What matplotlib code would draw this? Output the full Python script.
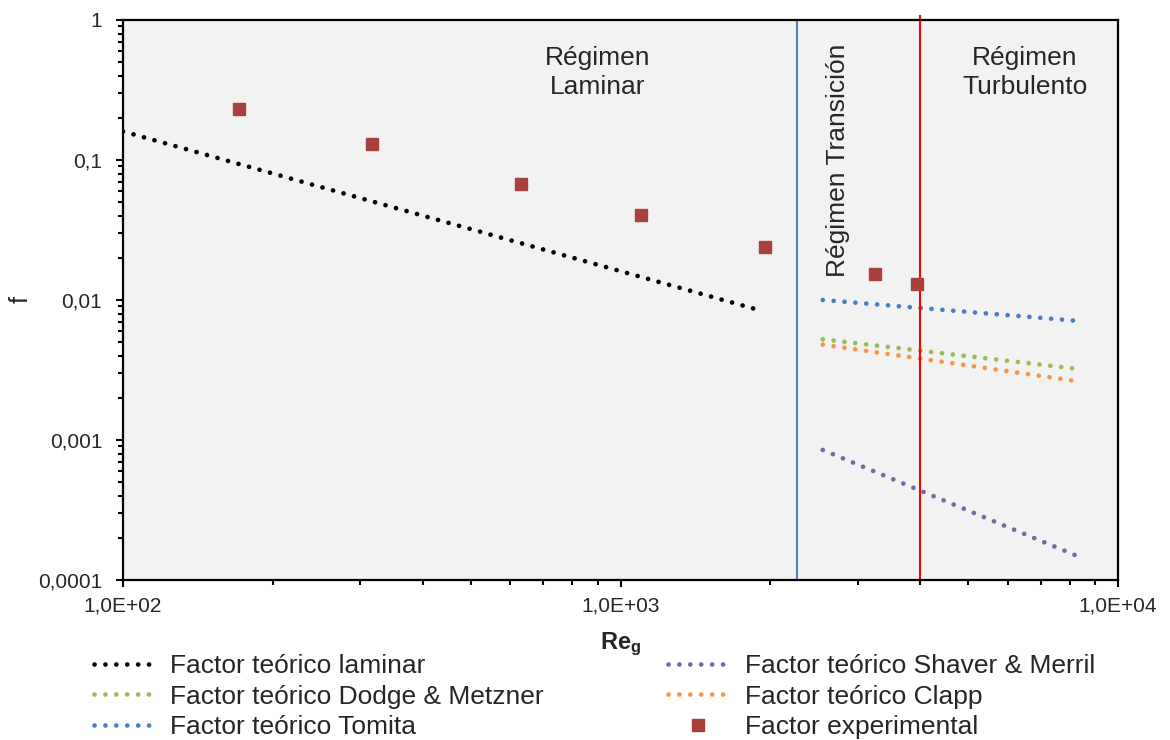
import matplotlib
matplotlib.use("Agg")
import matplotlib.pyplot as plt
from matplotlib.ticker import LogLocator, NullFormatter

plt.rcParams['font.family'] = ['Liberation Sans', 'DejaVu Sans']
plt.rcParams['mathtext.fontset'] = 'custom'
plt.rcParams['mathtext.rm'] = 'Liberation Sans'
plt.rcParams['mathtext.bf'] = 'Liberation Sans:bold'

# Experimental friction factor vs generalized Reynolds number
re_exp = [171, 317, 631, 1099, 1952, 3248, 3944]
f_exp = [0.231, 0.130, 0.0674, 0.0405, 0.0239, 0.0153, 0.0130]

# Theoretical curves (straight in log-log, endpoints)
re_lam = [100, 1915]
f_lam = [0.16, 0.0084]

re_turb = [2550, 8220]
f_dodge = [0.00524, 0.00323]
f_shaver = [0.000849, 0.000150]
f_clapp = [0.00480, 0.00264]
f_tomita = [0.0100, 0.00711]

re_trans_start = 2260
re_turb_start = 4000

y_ticks = [1e-4, 1e-3, 1e-2, 1e-1, 1]
y_labels = ['0,0001', '0,001', '0,01', '0,1', '1']
x_ticks = [1e2, 1e3, 1e4]
x_labels = ['1,0E+02', '1,0E+03', '1,0E+04']

fig = plt.figure(figsize=(11.7, 7.4), dpi=100)
ax = fig.add_axes([0.1051, 0.2162, 0.8505, 0.7568])
ax.set_facecolor('#F2F2F2')

dots = dict(linestyle=(0, (0.01, 2.3)), dash_capstyle='round', lw=3.4)

l_lam, = ax.plot(re_lam, f_lam, color='black', label='Factor teórico laminar', **dots)
l_dodge, = ax.plot(re_turb, f_dodge, color='#9BBB59', label='Factor teórico Dodge & Metzner', **dots)
l_tomita, = ax.plot(re_turb, f_tomita, color='#4A7EC4', label='Factor teórico Tomita', **dots)
l_shaver, = ax.plot(re_turb, f_shaver, color='#8064A2', label='Factor teórico Shaver & Merril', **dots)
l_clapp, = ax.plot(re_turb, f_clapp, color='#F79646', label='Factor teórico Clapp', **dots)

# regime boundaries
ax.plot([re_trans_start] * 2, [1e-4, 1], color='#4F81BD', lw=1.5)
ax.plot([re_turb_start] * 2, [1e-4, 1.07], color='#FF0000', lw=1.5, clip_on=False)

l_exp, = ax.plot(re_exp, f_exp, linestyle='none', marker='s', markersize=9,
                 color='#A8403D', label='Factor experimental', zorder=5)

ax.set_xscale('log')
ax.set_yscale('log')
ax.set_xlim(100, 10000)
ax.set_ylim(1e-4, 1)

ax.set_xticks(x_ticks, x_labels)
ax.set_yticks(y_ticks, y_labels)
ax.xaxis.set_minor_locator(LogLocator(base=10, subs=range(2, 10)))
ax.yaxis.set_minor_locator(LogLocator(base=10, subs=range(2, 10)))
ax.xaxis.set_minor_formatter(NullFormatter())
ax.yaxis.set_minor_formatter(NullFormatter())
ax.tick_params(which='major', direction='out', length=5, width=1.5,
               labelsize=15, colors='black', labelcolor='#262626')
ax.tick_params(which='minor', direction='out', length=3.5, width=1.5, colors='black')
ax.tick_params(axis='x', which='major', pad=7)
ax.tick_params(axis='y', which='major', pad=10)
for s in ax.spines.values():
    s.set_linewidth(1.6)

ax.set_xlabel(r'$\mathbf{Re_g}$', fontsize=17, color='#262626')
ax.xaxis.set_label_coords(0.5, -0.09)
ax.set_ylabel('f', fontsize=18, color='#262626', va='center')
ax.yaxis.set_label_coords(-0.1025, 0.5)

txt = dict(fontsize=19, color='#262626', ha='center', va='center', linespacing=1.25)
ax.text(900, 0.42, 'Régimen\nLaminar', **txt)
ax.text(6500, 0.42, 'Régimen\nTurbulento', **txt)
ax.text(2735, 0.10, 'Régimen Transición', rotation=90, **txt)

handles = [l_lam, l_dodge, l_tomita, l_shaver, l_clapp, l_exp]
fig.legend(handles, [h.get_label() for h in handles], ncol=2, loc='lower left',
           bbox_to_anchor=(0.06, -0.031), frameon=False, fontsize=19,
           handlelength=2.3, handletextpad=0.6, columnspacing=4.7,
           labelspacing=0.25, labelcolor='#262626')

fig.savefig('out.png', dpi=100)
